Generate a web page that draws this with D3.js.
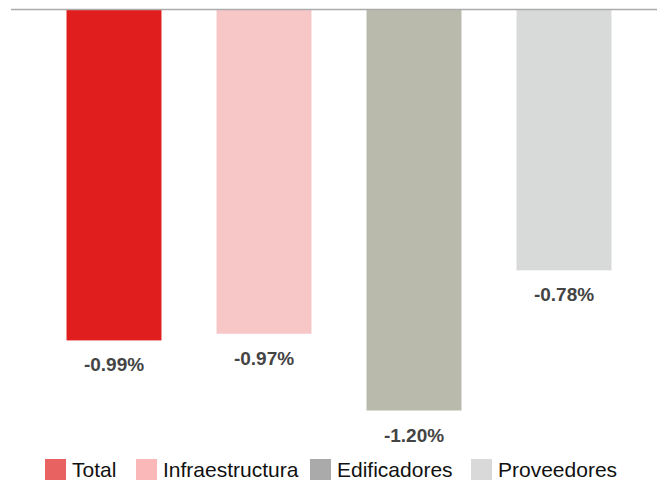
<!DOCTYPE html>
<meta charset="utf-8">
<script src="https://d3js.org/d3.v7.min.js"></script>
<style>
  body { margin: 0; background: #fff; }
  text { font-family: "Liberation Sans", Arial, sans-serif; }
</style>
<div id="chart"></div>
<script>
// data
var categories = ["Total", "Infraestructura", "Edificadores", "Proveedores"];
var values = [-0.99, -0.97, -1.20, -0.78];
var labels = ["-0.99%", "-0.97%", "-1.20%", "-0.78%"];
var barColors = ["#e01e1e", "#f7c6c6", "#b9baab", "#d8d9d9"];
var legendColors = ["#e86262", "#fbb8b8", "#aaaaaa", "#d9d9d9"];

var width = 657, height = 481;

var svg = d3.select("#chart")
  .append("svg")
    .attr("width", width)
    .attr("height", height);

var x = d3.scaleBand()
  .domain(categories)
  .range([39, 639])
  .paddingInner(0.367)
  .paddingOuter(0.1835);

var y = d3.scaleLinear()
  .domain([0, -1.2])
  .range([10, 410.5]);

// bars
svg.selectAll("rect.bar")
  .data(categories)
  .enter()
  .append("rect")
    .attr("class", "bar")
    .attr("x", function(d) { return x(d); })
    .attr("y", y(0))
    .attr("width", x.bandwidth())
    .attr("height", function(d, i) { return y(values[i]) - y(0); })
    .style("fill", function(d, i) { return barColors[i]; });

// zero line
svg.append("line")
  .attr("x1", 11)
  .attr("x2", width)
  .attr("y1", y(0) - 0.5)
  .attr("y2", y(0) - 0.5)
  .style("stroke", "#ababab")
  .style("stroke-width", 1.5);

// value labels
svg.selectAll("text.val")
  .data(categories)
  .enter()
  .append("text")
    .attr("class", "val")
    .attr("x", function(d) { return x(d) + x.bandwidth() / 2; })
    .attr("y", function(d, i) { return y(values[i]) + 31; })
    .attr("text-anchor", "middle")
    .style("font-size", "19px")
    .style("font-weight", "bold")
    .style("fill", "#444")
    .text(function(d, i) { return labels[i]; });

// legend (swatch positions as in the original layout)
var size = 21;
var legendX = [45, 136, 310, 471];
var legend = svg.selectAll("g.leg")
  .data(categories)
  .enter()
  .append("g")
    .attr("class", "leg")
    .attr("transform", function(d, i) { return "translate(" + legendX[i] + ",459)"; });

legend.append("rect")
  .attr("width", size)
  .attr("height", size)
  .style("fill", function(d, i) { return legendColors[i]; });

legend.append("text")
  .attr("x", size + 6)
  .attr("y", 18)
  .style("font-size", "21px")
  .style("fill", "#111")
  .text(function(d) { return d; });
</script>
